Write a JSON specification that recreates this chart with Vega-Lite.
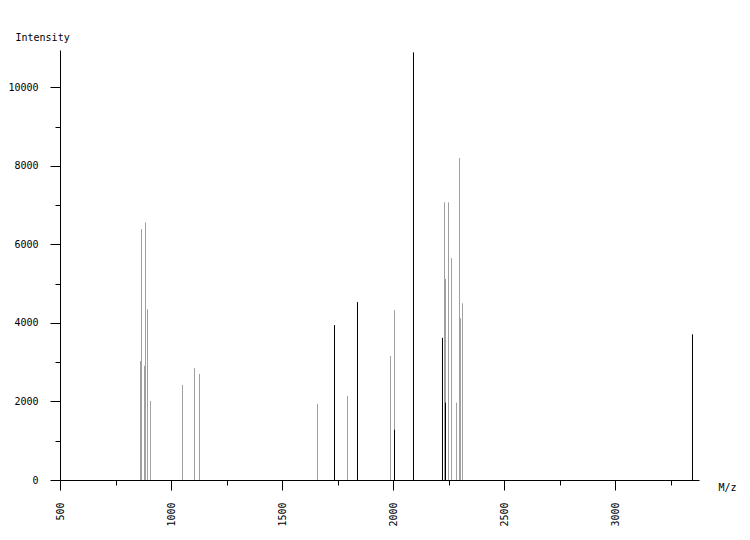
{
  "$schema": "https://vega.github.io/schema/vega-lite/v6.json",
  "width": 639,
  "height": 430,
  "autosize": {"type": "none"},
  "padding": {"left": 60, "top": 50, "right": 51, "bottom": 60},
  "background": "white",
  "config": {
    "view": {"stroke": null},
    "font": "DejaVu Sans Mono",
    "axis": {
      "grid": false,
      "domainColor": "black",
      "tickColor": "black",
      "labelColor": "black",
      "titleColor": "black",
      "labelFont": "DejaVu Sans Mono",
      "titleFont": "DejaVu Sans Mono",
      "labelFontSize": 10,
      "titleFontSize": 10,
      "titleFontWeight": "normal",
      "domainWidth": 1,
      "tickWidth": 1
    }
  },
  "data": {
    "values": [
      {"mz": 862.6, "intensity": 3030, "type": "gray"},
      {"mz": 867.1, "intensity": 6390, "type": "gray"},
      {"mz": 880.6, "intensity": 2910, "type": "gray"},
      {"mz": 885.1, "intensity": 6560, "type": "gray"},
      {"mz": 894.1, "intensity": 4350, "type": "gray"},
      {"mz": 907.6, "intensity": 2010, "type": "gray"},
      {"mz": 1051.7, "intensity": 2420, "type": "gray"},
      {"mz": 1105.8, "intensity": 2850, "type": "gray"},
      {"mz": 1128.3, "intensity": 2700, "type": "gray"},
      {"mz": 1659.8, "intensity": 1940, "type": "gray"},
      {"mz": 1794.9, "intensity": 2140, "type": "gray"},
      {"mz": 1988.5, "intensity": 3160, "type": "gray"},
      {"mz": 2006.6, "intensity": 4330, "type": "gray"},
      {"mz": 2231.8, "intensity": 7070, "type": "gray"},
      {"mz": 2236.3, "intensity": 5120, "type": "gray"},
      {"mz": 2249.8, "intensity": 7070, "type": "gray"},
      {"mz": 2263.3, "intensity": 5650, "type": "gray"},
      {"mz": 2285.8, "intensity": 1970, "type": "gray"},
      {"mz": 2299.3, "intensity": 8200, "type": "gray"},
      {"mz": 2303.8, "intensity": 4120, "type": "gray"},
      {"mz": 2312.8, "intensity": 4500, "type": "gray"},
      {"mz": 1736.3, "intensity": 3945, "type": "black"},
      {"mz": 1839.9, "intensity": 4530, "type": "black"},
      {"mz": 2006.6, "intensity": 1280, "type": "black"},
      {"mz": 2092.1, "intensity": 10890, "type": "black"},
      {"mz": 2222.7, "intensity": 3620, "type": "black"},
      {"mz": 2236.3, "intensity": 1970, "type": "black"},
      {"mz": 3348.7, "intensity": 3710, "type": "black"}
    ]
  },
  "mark": {"type": "rule", "strokeWidth": 1},
  "encoding": {
    "x": {
      "field": "mz",
      "type": "quantitative",
      "scale": {"domain": [500, 3378], "nice": false, "zero": false},
      "axis": {
        "values": [500, 750, 1000, 1250, 1500, 1750, 2000, 2250, 2500, 2750, 3000, 3250],
        "format": "d",
        "labelExpr": "datum.value % 500 === 0 ? datum.label : ''",
        "tickSize": {"condition": {"test": "datum.value % 500 === 0", "value": 10}, "value": 5},
        "labelAngle": -90,
        "labelAlign": "right",
        "labelBaseline": "middle",
        "labelPadding": 12,
        "title": "M/z",
        "titleAngle": 0,
        "titleX": 658,
        "titleY": 7,
        "titleAlign": "left",
        "titleBaseline": "middle"
      }
    },
    "y": {
      "field": "intensity",
      "type": "quantitative",
      "scale": {"domain": [0, 10950], "nice": false},
      "axis": {
        "values": [0, 1000, 2000, 3000, 4000, 5000, 6000, 7000, 8000, 9000, 10000],
        "format": "d",
        "labelExpr": "datum.value % 2000 === 0 ? datum.label : ''",
        "tickSize": {"condition": {"test": "datum.value % 2000 === 0", "value": 10}, "value": 5},
        "labelPadding": 12,
        "title": "Intensity",
        "titleAngle": 0,
        "titleX": -45,
        "titleY": -13,
        "titleAlign": "left",
        "titleBaseline": "middle"
      }
    },
    "y2": {"datum": 0},
    "color": {
      "field": "type",
      "type": "nominal",
      "scale": {"domain": ["gray", "black"], "range": ["#a0a0a0", "#000000"]},
      "legend": null
    }
  }
}
